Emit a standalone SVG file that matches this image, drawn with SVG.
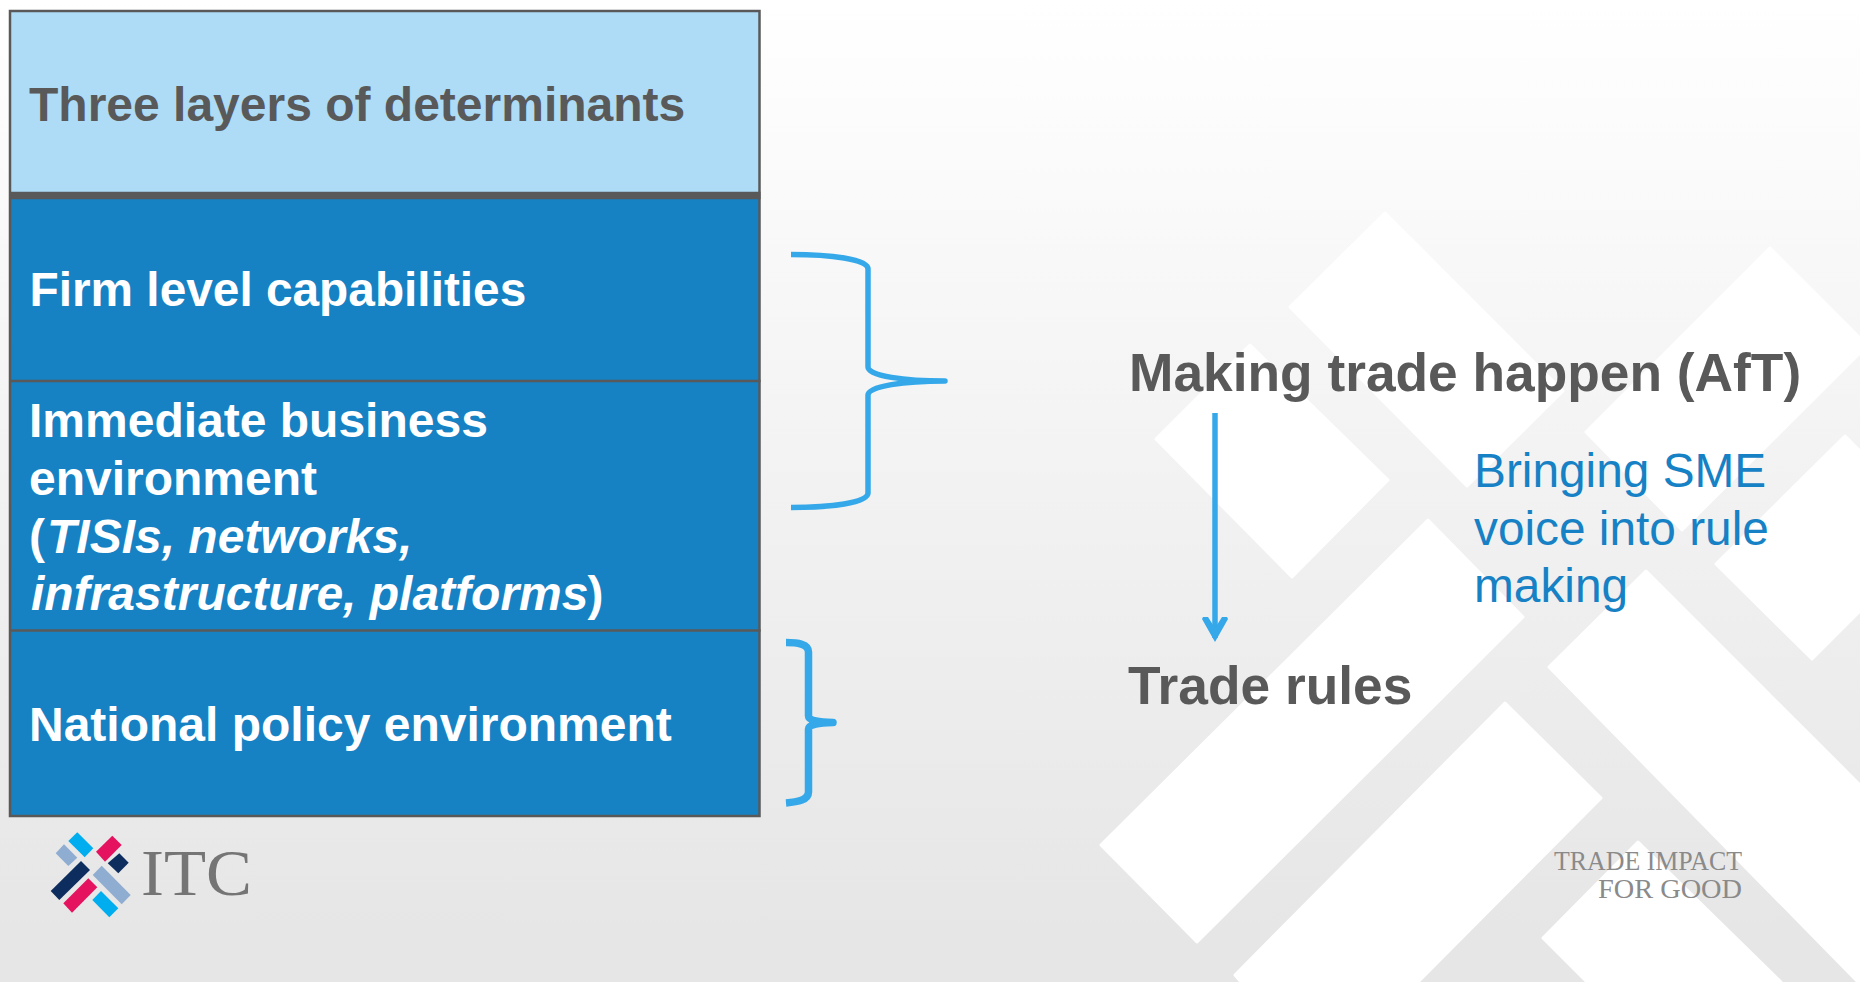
<svg xmlns="http://www.w3.org/2000/svg" width="1860" height="982" viewBox="0 0 1860 982">
<style>
.sans{font-family:"Liberation Sans",Arial,sans-serif}
.hd{font-size:48px;font-weight:700;fill:#595959}
.row{font-size:48px;font-weight:700;fill:#fff}
.big{font-size:53.3px;font-weight:700;fill:#595959}
.note{font-size:47.8px;fill:#1681c4}
.dark{fill:#1682c4}
.rule{stroke:#595959;fill:none}
.bg{fill:#fff;stroke:#fff;stroke-width:3;stroke-linejoin:round}
.brace{fill:none;stroke:#35a8ea;stroke-linejoin:round;stroke-linecap:butt}
.serif{font-family:"Liberation Serif","Times New Roman",serif}
</style>
<defs>
<linearGradient id="bgGrad" x1="0" y1="0" x2="0" y2="1">
<stop offset="0" stop-color="#ffffff"/>
<stop offset="0.95" stop-color="#e6e6e6"/>
</linearGradient>
<marker id="arrowHead" markerUnits="userSpaceOnUse" markerWidth="30" markerHeight="30" refX="21" refY="15" orient="auto" viewBox="0 0 30 30">
<path d="M25 15L2 28L0 27L0 22L11 15L0 8L0 3L2 2Z" fill="#35a8ea" stroke="none"/>
</marker>
</defs>
<rect id="background" width="1860" height="982" fill="url(#bgGrad)"/>
<g id="watermark">
<polygon class="bg" points="1385,213 1563,391 1467,486 1290,307"/>
<polygon class="bg" points="1770,248 1860,338 1860,353 1682,530 1586,432"/>
<polygon class="bg" points="1250,345 1388,480 1292,577 1156,439"/>
<polygon class="bg" points="1845,436 1860,451 1860,611 1812,659 1716,564"/>
<polygon class="bg" points="1428,520 1523,617 1197,942 1101,845"/>
<polygon class="bg" points="1646,571 1860,785 1860,982 1858,982 1549,667"/>
<polygon class="bg" points="1505,703 1601,798 1418,982 1241,982 1235,975"/>
<polygon class="bg" points="1638,842 1781,982 1587,982 1543,938"/>
</g>
<g id="header-row">
<rect x="10" y="11" width="749.5" height="184" fill="#aedcf7"/>
<text class="sans hd" x="29" y="121">Three layers of determinants</text>
</g>
<g id="firm-row">
<rect class="dark" x="10" y="195" width="749.5" height="186"/>
<text class="sans row" x="29.5" y="306" style="font-size:47.8px">Firm level capabilities</text>
</g>
<g id="business-row">
<rect class="dark" x="10" y="381" width="749.5" height="249"/>
<text class="sans row"><tspan x="29" y="437">Immediate business</tspan><tspan x="29" y="495">environment</tspan><tspan x="29" y="553">(</tspan><tspan dx="2" y="553" font-style="italic">TISIs, networks,</tspan><tspan x="31" y="610" font-style="italic">infrastructure, platforms</tspan><tspan dx="-1" y="610">)</tspan></text>
</g>
<g id="policy-row">
<rect class="dark" x="10" y="630" width="749.5" height="186"/>
<text class="sans row" x="29" y="741">National policy environment</text>
</g>
<g id="table-rules">
<rect class="rule" x="10" y="11" width="749.5" height="805" stroke-width="2.5"/>
<path class="rule" d="M9 195.5H760.5" stroke-width="7.5"/>
<path class="rule" d="M9 381H760.5M9 630.5H760.5" stroke-width="2.5"/>
</g>
<g id="making-trade">
<text class="sans big" x="1129" y="391">Making trade happen (AfT)</text>
</g>
<g id="trade-rules">
<text class="sans big" x="1128" y="704">Trade rules</text>
</g>
<g id="sme-note">
<text class="sans note"><tspan x="1474" y="487">Bringing SME</tspan><tspan x="1474" y="545">voice into rule</tspan><tspan x="1474" y="602">making</tspan></text>
</g>
<g id="connectors">
<path class="brace" stroke-width="5.5" d="M791 254.5C830 254.5 868 259 868 269V367C868 376 905 381 945 381C905 381 868 386 868 395V493C868 503 830 507.5 791 507.5"/>
<path class="brace" stroke-width="7.5" d="M786 642.5C798 642.5 808.5 644 808.5 652V716C808.5 721 820 722 833 722.5C820 723 808.5 724 808.5 729V792C808.5 800 798 802 786 803"/>
<path fill="none" stroke="#35a8ea" stroke-width="5.5" d="M1215 413V638" marker-end="url(#arrowHead)"/>
</g>
<g id="itc-logo">
<polygon fill="#00aeef" points="77.3,52.3 93.3,68.3 84.7,77.3 68.3,61" transform="translate(0,780)"/>
<polygon fill="#8fadd0" points="64,64.3 77.3,77.7 68.3,86 55.7,73.3" transform="translate(0,780)"/>
<polygon fill="#e5135f" points="112.3,55.7 121.7,65 105,81.7 96,71.7" transform="translate(0,780)"/>
<polygon fill="#0d2d5e" points="119.3,73.3 128.7,82.7 118.3,93.3 107.7,83.3" transform="translate(0,780)"/>
<polygon fill="#0d2d5e" points="81,81 90,90 59.3,120 50.7,111" transform="translate(0,780)"/>
<polygon fill="#e5135f" points="88.3,98.3 97.3,107.3 72,132.7 63.3,123.3" transform="translate(0,780)"/>
<polygon fill="#8fadd0" points="101.7,85.7 130.7,115 121.7,124.3 92.7,95" transform="translate(0,780)"/>
<polygon fill="#00aeef" points="101,111 118.3,128.3 109.3,137.3 92.3,120" transform="translate(0,780)"/>
<text class="serif" x="141" y="895" font-size="66" fill="#757575" textLength="111" lengthAdjust="spacingAndGlyphs">ITC</text>
</g>
<g id="tagline">
<text class="serif" x="1554" y="870" font-size="27" fill="#8a8a8a" textLength="188" lengthAdjust="spacingAndGlyphs">TRADE IMPACT</text>
<text class="serif" x="1598" y="898" font-size="27" fill="#8a8a8a" textLength="144" lengthAdjust="spacingAndGlyphs">FOR GOOD</text>
</g>
</svg>
